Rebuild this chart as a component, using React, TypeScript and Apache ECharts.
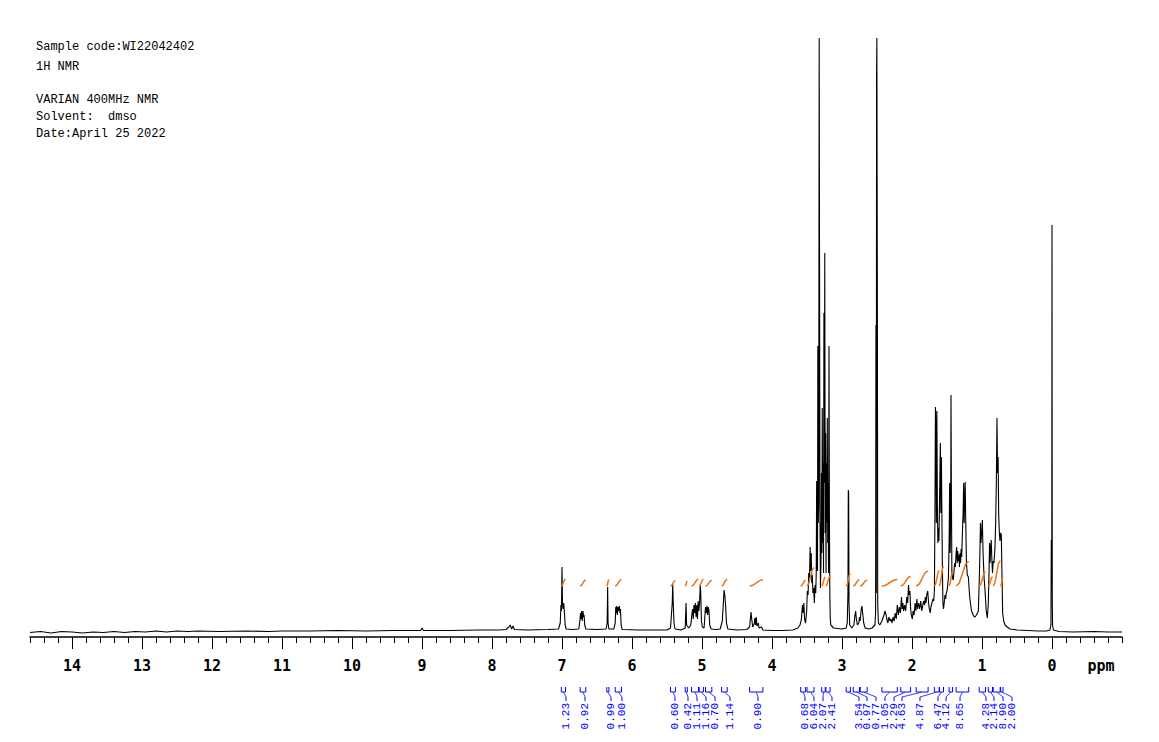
import React, { useEffect, useRef } from 'react';
import * as echarts from 'echarts';

// ---------- header text ----------
const headerLines: string[] = [
  'Sample code:WI22042402',
  '1H NMR',
  '',
  'VARIAN 400MHz NMR',
  'Solvent:  dmso',
  'Date:April 25 2022',
];
const headerLineY: number[] = [47, 67, 84, 100, 117, 134];

// ---------- axis ----------
const axisMin = -1.0;
const axisMax = 14.6;
const tickLabels: number[] = [0, 1, 2, 3, 4, 5, 6, 7, 8, 9, 10, 11, 12, 13, 14];
const unitLabel = 'ppm';

// ---------- spectrum [ppm, intensity] ----------
const spectrumAromatic: [number, number][] = [
  [14.6, 0.5], [14.45, 1.5], [14.3, 0], [14.15, 1.5], [14.0, 1], [13.85, 0], [13.7, 1], [13.55, 0.5], [13.4, 1.5],
  [13.25, 0.5], [13.1, 1.5], [12.95, 1], [12.8, 2], [12.65, 1], [12.5, 2], [12.35, 1.5], [12.2, 2], [11.9, 1.5],
  [11.5, 2], [11.2, 1.5], [11.0, 2], [10.6, 2], [10.2, 2.5], [9.8, 2], [9.4, 2.5], [9.02, 2.5], [9.0, 5], [8.98, 2.5],
  [8.6, 2.5], [8.2, 3], [7.9, 3], [7.8, 3.5], [7.76, 6], [7.74, 8], [7.72, 4], [7.70, 7], [7.68, 3.5], [7.5, 3],
  [7.2, 3.5], [7.05, 4],
  [7.025, 10], [7.015, 28], [7.008, 22], [7.0, 66], [6.993, 30], [6.985, 24], [6.975, 30], [6.965, 20], [6.955, 8], [6.94, 4],
  [6.85, 3.5], [6.76, 4], [6.745, 12], [6.735, 20], [6.728, 14], [6.72, 22], [6.712, 12], [6.70, 22], [6.692, 16],
  [6.685, 18], [6.675, 8], [6.66, 4],
  [6.5, 3.5], [6.37, 4], [6.355, 10], [6.348, 46], [6.342, 10], [6.33, 4],
  [6.26, 4], [6.24, 10], [6.232, 26], [6.225, 20], [6.218, 27], [6.21, 18], [6.2, 26], [6.19, 22], [6.18, 27],
  [6.172, 20], [6.165, 24], [6.155, 8], [6.14, 3.5],
  [5.9, 3], [5.7, 3], [5.5, 3], [5.45, 5], [5.425, 30], [5.418, 49], [5.41, 28], [5.40, 10], [5.385, 4],
  [5.3, 3], [5.24, 5], [5.228, 30], [5.22, 8], [5.19, 5], [5.16, 8], [5.145, 18], [5.135, 24], [5.125, 14],
  [5.115, 28], [5.105, 20], [5.095, 30], [5.085, 16], [5.075, 28], [5.065, 14], [5.055, 32], [5.045, 22],
  [5.035, 30], [5.025, 48], [5.018, 40], [5.008, 12], [4.995, 6], [4.97, 5],
  [4.95, 26], [4.94, 20], [4.93, 27], [4.92, 18], [4.91, 26], [4.90, 22], [4.89, 8], [4.87, 4], [4.80, 3.5],
  [4.74, 4], [4.71, 12], [4.695, 30], [4.685, 43], [4.675, 38], [4.665, 30], [4.65, 10], [4.63, 4],
  [4.5, 3], [4.36, 3.5], [4.32, 6], [4.30, 21], [4.29, 14], [4.275, 6], [4.255, 9], [4.245, 15], [4.235, 8],
  [4.225, 16], [4.215, 7], [4.195, 10], [4.185, 5], [4.15, 6], [4.13, 3], [4.0, 2.5], [3.85, 2.5], [3.7, 3], [3.63, 5],
];

const spectrumMid: [number, number][] = [
  [3.6, 8], [3.58, 14], [3.565, 28], [3.555, 20], [3.545, 30], [3.535, 14], [3.52, 10], [3.505, 22], [3.495, 42],
  [3.485, 38], [3.475, 60], [3.465, 55], [3.455, 86], [3.448, 62], [3.44, 80], [3.432, 50], [3.425, 58], [3.415, 40],
  [3.405, 45], [3.395, 30], [3.385, 48], [3.375, 40], [3.368, 60], [3.362, 152], [3.356, 70], [3.35, 62],
  [3.345, 287], [3.339, 110], [3.333, 130], [3.326, 595], [3.32, 595], [3.315, 120], [3.308, 45], [3.30, 70],
  [3.294, 160], [3.288, 80], [3.282, 225], [3.276, 90], [3.27, 170], [3.264, 60], [3.258, 320], [3.252, 150],
  [3.246, 380], [3.24, 100], [3.234, 200], [3.228, 60], [3.222, 170], [3.216, 110], [3.21, 215], [3.204, 90],
  [3.198, 150], [3.192, 60], [3.186, 287], [3.18, 120], [3.174, 40], [3.168, 15], [3.16, 8], [3.12, 5], [3.0, 4],
  [2.94, 5], [2.925, 10], [2.915, 40], [2.91, 143], [2.905, 140], [2.90, 30], [2.89, 8], [2.86, 5],
  [2.83, 8], [2.815, 18], [2.805, 22], [2.795, 14], [2.78, 8], [2.76, 10], [2.75, 16], [2.74, 12], [2.725, 24],
  [2.715, 27], [2.705, 20], [2.69, 10], [2.67, 5], [2.62, 4], [2.57, 5], [2.53, 8], [2.52, 20], [2.515, 308],
  [2.51, 40], [2.506, 560], [2.502, 595], [2.498, 595], [2.494, 300], [2.49, 30], [2.48, 10], [2.46, 8],
  [2.43, 12], [2.40, 18], [2.385, 22], [2.37, 18], [2.36, 14], [2.345, 10], [2.33, 16], [2.315, 12], [2.30, 14],
  [2.285, 10], [2.27, 16], [2.255, 12], [2.24, 20], [2.225, 14], [2.21, 28], [2.195, 18], [2.18, 26], [2.165, 20],
  [2.15, 36], [2.14, 24], [2.13, 30], [2.12, 22], [2.105, 28], [2.09, 22], [2.075, 36], [2.062, 30], [2.05, 48],
  [2.04, 38], [2.03, 42], [2.02, 25], [2.01, 18], [1.995, 14], [1.985, 22], [1.97, 18], [1.955, 30], [1.945, 22],
  [1.93, 34], [1.92, 24], [1.905, 30], [1.89, 24], [1.875, 32], [1.86, 22], [1.85, 26], [1.835, 32], [1.82, 28],
  [1.81, 36], [1.80, 30], [1.79, 38], [1.775, 42], [1.765, 32], [1.755, 25], [1.74, 20], [1.73, 26], [1.715, 30],
  [1.70, 34],
];

const spectrumAliphatic: [number, number][] = [
  [1.69, 32], [1.68, 42], [1.672, 120], [1.665, 226], [1.658, 200], [1.652, 110], [1.645, 222], [1.638, 130],
  [1.63, 90], [1.622, 105], [1.615, 92], [1.607, 130], [1.595, 190], [1.588, 120], [1.58, 176], [1.572, 110],
  [1.565, 60], [1.558, 30], [1.55, 24], [1.54, 30], [1.53, 38], [1.52, 34],
  [1.51, 40], [1.50, 42], [1.49, 48], [1.48, 55], [1.47, 90], [1.462, 150], [1.455, 80], [1.447, 120], [1.443, 238],
  [1.438, 150], [1.43, 60], [1.42, 55], [1.41, 53], [1.40, 62], [1.39, 70], [1.38, 66], [1.37, 80], [1.362, 86],
  [1.354, 70], [1.346, 82], [1.338, 72], [1.33, 78], [1.322, 66], [1.314, 80], [1.306, 70], [1.298, 84], [1.29, 76],
  [1.28, 100], [1.27, 120], [1.262, 150], [1.255, 110], [1.248, 130], [1.24, 151], [1.232, 110], [1.222, 70],
  [1.21, 58], [1.195, 56], [1.18, 40], [1.171, 33], [1.15, 22], [1.12, 17], [1.10, 16], [1.08, 18], [1.065, 20],
  [1.052, 22], [1.04, 50], [1.03, 80], [1.022, 110], [1.015, 90], [1.005, 100], [0.995, 113], [0.985, 80],
  [0.97, 55], [0.957, 43], [0.94, 22], [0.924, 15], [0.91, 30], [0.90, 60], [0.892, 90], [0.885, 70], [0.876, 85],
  [0.868, 93], [0.86, 75], [0.85, 60], [0.84, 72], [0.829, 70], [0.815, 85], [0.805, 110], [0.795, 150],
  [0.786, 215], [0.778, 160], [0.77, 176], [0.762, 120], [0.752, 100], [0.743, 92], [0.735, 100], [0.724, 98],
  [0.715, 60], [0.705, 20], [0.69, 12], [0.67, 8], [0.64, 6], [0.60, 4], [0.5, 3], [0.35, 2.5], [0.2, 2],
  [0.08, 2], [0.03, 3], [0.015, 8], [0.01, 93], [0.006, 50], [0.003, 60], [0.0, 408], [-0.004, 30], [-0.008, 8],
  [-0.02, 3], [-0.1, 1.5], [-0.3, 1], [-0.6, 1.5], [-0.8, 1], [-1.0, 1],
];

// ---------- integrals ----------
const integralFrom: number[] = [7.01, 6.74, 6.36, 6.24, 5.45, 5.24, 5.15, 5.04, 4.95, 4.72, 4.32, 3.59, 3.50, 3.29, 3.23, 2.94, 2.84, 2.74, 2.43, 2.16, 1.94, 1.68, 1.61, 1.47, 1.37, 1.04, 0.91, 0.84, 0.735];
const integralTo: number[] = [6.95, 6.66, 6.33, 6.15, 5.38, 5.21, 5.05, 4.98, 4.86, 4.64, 4.13, 3.52, 3.40, 3.24, 3.17, 2.88, 2.75, 2.64, 2.21, 2.02, 1.77, 1.61, 1.55, 1.42, 1.19, 0.95, 0.85, 0.74, 0.70];
const integralValues: number[] = [1.23, 0.92, 0.99, 1.00, 0.60, 0.42, 1.11, 1.16, 0.70, 1.14, 0.90, 0.68, 6.04, 2.07, 2.41, 3.54, 0.97, 0.77, 1.05, 2.29, 4.63, 4.87, 6.47, 4.12, 8.65, 4.28, 2.14, 8.90, 2.00];
const integralLabelPpm: number[] = [6.943, 6.671, 6.300, 6.143, 5.386, 5.200, 5.071, 4.943, 4.814, 4.600, 4.200, 3.529, 3.400, 3.271, 3.143, 2.757, 2.643, 2.514, 2.386, 2.257, 2.143, 1.886, 1.629, 1.514, 1.314, 0.943, 0.829, 0.700, 0.571];

const CURVE_BASE = 47;

const App: React.FC = () => {
  const ref = useRef<HTMLDivElement | null>(null);

  useEffect(() => {
    if (!ref.current) return;
    const chart = echarts.init(ref.current, null, { renderer: 'svg' });

    const spectrum = [...spectrumAromatic, ...spectrumMid, ...spectrumAliphatic];
    const curveData = integralFrom.map((f, i) => [f, integralTo[i], integralValues[i]]);
    const bracketData = integralFrom.map((f, i) => [f, integralTo[i], integralLabelPpm[i], integralValues[i]]);

    const graphics: any[] = headerLines
      .map((t, i) => ({ t, y: headerLineY[i] }))
      .filter((d) => d.t.length > 0)
      .map((d) => ({
        type: 'text',
        x: 36,
        y: d.y,
        style: {
          text: d.t,
          font: '12px "Liberation Mono"',
          fill: '#000',
          verticalAlign: 'middle',
          align: 'left',
        },
      }));
    graphics.push({
      type: 'text',
      x: 1101,
      y: 666,
      style: {
        text: unitLabel,
        font: 'bold 15px "DejaVu Sans Mono"',
        fill: '#000',
        align: 'center',
        verticalAlign: 'middle',
      },
    });

    const option: any = {
      animation: false,
      backgroundColor: '#ffffff',
      grid: { left: 30, right: 37, top: 38, bottom: 105, containLabel: false, outerBoundsMode: 'none' },
      xAxis: [
        {
          type: 'value',
          min: axisMin,
          max: axisMax,
          interval: 1,
          inverse: true,
          position: 'bottom',
          axisLine: { show: true, onZero: false, lineStyle: { color: '#000', width: 1.5 } },
          axisTick: { show: true, length: 12, customValues: tickLabels, lineStyle: { color: '#000', width: 1 } },
          axisLabel: {
            show: true,
            customValues: tickLabels,
            margin: 21,
            color: '#000',
            fontFamily: 'DejaVu Sans Mono',
            fontWeight: 'bold',
            fontSize: 15,
            formatter: (v: number) => (v >= 0 && Math.abs(v - Math.round(v)) < 1e-6 ? String(Math.round(v)) : ''),
          },
          splitLine: { show: false },
        },
        {
          type: 'value',
          min: axisMin,
          max: axisMax,
          interval: 0.2,
          inverse: true,
          position: 'bottom',
          axisLine: { show: false, onZero: false },
          axisTick: { show: true, length: 6, lineStyle: { color: '#000', width: 1 } },
          axisLabel: { show: false },
          splitLine: { show: false },
        },
      ],
      yAxis: { type: 'value', min: -4, max: 595, show: false },
      series: [
        {
          type: 'line',
          xAxisIndex: 0,
          yAxisIndex: 0,
          data: spectrum,
          symbol: 'none',
          showSymbol: false,
          silent: true,
          lineStyle: { color: '#000', width: 1.1 },
          z: 3,
        },
        {
          type: 'custom',
          xAxisIndex: 0,
          yAxisIndex: 0,
          silent: true,
          encode: { x: [0, 1], y: 2 },
          data: curveData,
          z: 4,
          renderItem: (params: any, api: any) => {
            const f = api.value(0);
            const t = api.value(1);
            const v = api.value(2);
            const rise = 4 + 2.4 * v;
            const p0 = api.coord([f, CURVE_BASE]);
            const p1 = api.coord([f - (f - t) * 0.25, CURVE_BASE + rise * 0.12]);
            const p2 = api.coord([f - (f - t) * 0.75, CURVE_BASE + rise * 0.88]);
            const p3 = api.coord([t, CURVE_BASE + rise]);
            return {
              type: 'polyline',
              shape: { points: [p0, p1, p2, p3] },
              style: { stroke: '#e8751a', lineWidth: 1.5, fill: null },
            };
          },
        },
        {
          type: 'custom',
          xAxisIndex: 0,
          yAxisIndex: 0,
          silent: true,
          clip: false,
          encode: { x: [0, 1, 2], y: 3 },
          data: bracketData,
          z: 4,
          renderItem: (params: any, api: any) => {
            const cs = params.coordSys;
            const bottom = cs.y + cs.height;
            const x1 = api.coord([api.value(0), 0])[0];
            const x2 = api.coord([api.value(1), 0])[0];
            const lx = api.coord([api.value(2), 0])[0];
            const val = api.value(3);
            const xc = (x1 + x2) / 2;
            const endY = bottom + 50;
            const barY = bottom + 55;
            const legY = bottom + 60;
            const stemY = bottom + 64;
            const ls = { stroke: '#0000ff', lineWidth: 1 };
            return {
              type: 'group',
              children: [
                { type: 'line', shape: { x1, y1: endY, x2: x1, y2: barY }, style: ls },
                { type: 'line', shape: { x1: x2, y1: endY, x2, y2: barY }, style: ls },
                { type: 'line', shape: { x1, y1: barY, x2, y2: barY }, style: ls },
                { type: 'line', shape: { x1: xc, y1: barY, x2: lx, y2: legY }, style: { stroke: '#3a3aff', lineWidth: 1 } },
                { type: 'line', shape: { x1: lx, y1: legY, x2: lx, y2: stemY }, style: ls },
                {
                  type: 'text',
                  x: lx,
                  y: bottom + 66,
                  rotation: Math.PI / 2,
                  style: {
                    text: Number(val).toFixed(2),
                    fill: '#0000ff',
                    font: '11px "Liberation Mono"',
                    align: 'right',
                    verticalAlign: 'middle',
                  },
                },
              ],
            };
          },
        },
      ],
      graphic: graphics,
    };

    chart.setOption(option);
    return () => {
      chart.dispose();
    };
  }, []);

  return (
    <div
      ref={ref}
      style={{ position: 'fixed', left: 0, top: 0, width: 1159, height: 742, background: '#fff' }}
    />
  );
};

export default App;
